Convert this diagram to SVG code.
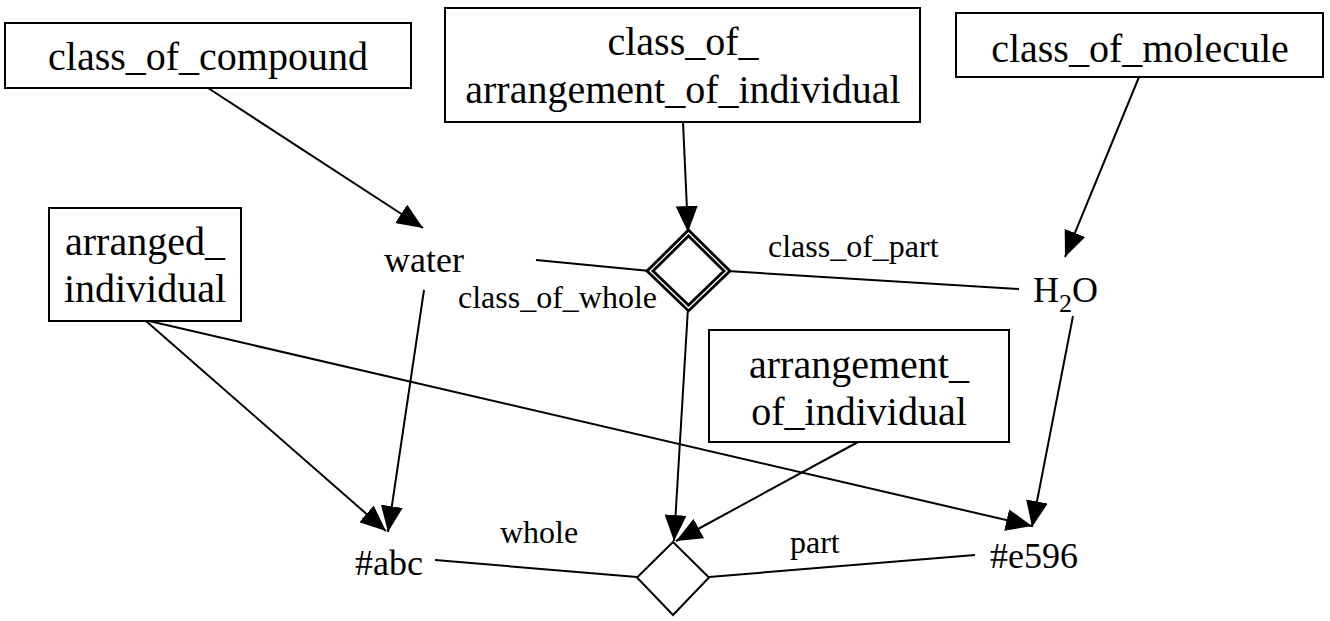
<svg xmlns="http://www.w3.org/2000/svg" width="1330" height="621" viewBox="0 0 1330 621">
<style>
.box{fill:#fff;stroke:#000;stroke-width:2}
text{font-family:'Liberation Serif','DejaVu Serif',serif;fill:#000}
.cls{font-size:40px;text-anchor:middle}
.ind{font-size:36px}
.lbl{font-size:32px}
.con{stroke:#000;stroke-width:2;fill:none}
.arr{marker-end:url(#ah)}
</style>
<defs>
<marker id="ah" markerUnits="userSpaceOnUse" markerWidth="26" markerHeight="22" refX="26" refY="11" orient="auto">
<path d="M0,0 L26,11 L0,22 z" fill="#000"/>
</marker>
</defs>
<rect width="1330" height="621" fill="#fff"/>
<g id="connectors">
<line class="con arr" x1="208" y1="88" x2="423" y2="228"/>
<line class="con arr" x1="683" y1="122" x2="688" y2="232"/>
<line class="con arr" x1="1139" y1="77" x2="1065" y2="257"/>
<line class="con" x1="536" y1="260" x2="650" y2="271"/>
<line class="con" x1="727" y1="271" x2="1019" y2="289"/>
<line class="con arr" x1="688" y1="308" x2="674" y2="541"/>
<line class="con arr" x1="858" y1="442" x2="676" y2="541"/>
<line class="con arr" x1="424" y1="290" x2="388" y2="532"/>
<line class="con arr" x1="146" y1="321" x2="386" y2="531"/>
<line class="con arr" x1="149" y1="321" x2="1032" y2="526"/>
<line class="con arr" x1="1073" y1="316" x2="1032" y2="527"/>
<line class="con" x1="435" y1="560" x2="637" y2="577"/>
<line class="con" x1="709" y1="577" x2="975" y2="555"/>
</g>
<g id="class_of_compound">
<rect class="box" x="5" y="23" width="406" height="65"/>
<text class="cls" x="208" y="70" font-family="Liberation Serif, DejaVu Serif, serif">class_of_compound</text>
</g>
<g id="class_of_arrangement_of_individual">
<rect class="box" x="445" y="8" width="475" height="114"/>
<text class="cls" x="683" y="55" font-family="Liberation Serif, DejaVu Serif, serif">class_of_</text>
<text class="cls" x="683" y="103" font-family="Liberation Serif, DejaVu Serif, serif">arrangement_of_individual</text>
</g>
<g id="class_of_molecule">
<rect class="box" x="956" y="13" width="367" height="64"/>
<text class="cls" x="1140" y="62" font-family="Liberation Serif, DejaVu Serif, serif">class_of_molecule</text>
</g>
<g id="arranged_individual">
<rect class="box" x="49" y="208" width="192" height="113"/>
<text class="cls" x="145" y="255" font-family="Liberation Serif, DejaVu Serif, serif">arranged_</text>
<text class="cls" x="145" y="302" font-family="Liberation Serif, DejaVu Serif, serif">individual</text>
</g>
<g id="arrangement_of_individual">
<rect class="box" x="709" y="330" width="300" height="112"/>
<text class="cls" x="859" y="378" font-family="Liberation Serif, DejaVu Serif, serif">arrangement_</text>
<text class="cls" x="859" y="425" font-family="Liberation Serif, DejaVu Serif, serif">of_individual</text>
</g>
<g id="water">
<text class="ind" x="384" y="272" font-family="Liberation Serif, DejaVu Serif, serif">water</text>
</g>
<g id="H2O">
<text class="ind" x="1033" y="302" font-family="Liberation Serif, DejaVu Serif, serif">H<tspan dy="10" font-size="26">2</tspan><tspan dy="-10">O</tspan></text>
</g>
<g id="abc">
<text class="ind" x="355" y="575" font-family="Liberation Serif, DejaVu Serif, serif">#abc</text>
</g>
<g id="e596">
<text class="ind" x="990" y="568" font-family="Liberation Serif, DejaVu Serif, serif">#e596</text>
</g>
<g id="class_of_composition">
<path d="M688.5,233 L727,271 L688.5,308 L650,271 Z" fill="#fff" stroke="#000" stroke-width="7" stroke-linejoin="miter"/>
<path d="M688.5,233 L727,271 L688.5,308 L650,271 Z" fill="none" stroke="#fff" stroke-width="1.3"/>
</g>
<g id="composition">
<path d="M673,542 L709,577.5 L673,615 L637,577.5 Z" fill="#fff" stroke="#000" stroke-width="2"/>
</g>
<g id="labels">
<text class="lbl" x="768" y="257" font-family="Liberation Serif, DejaVu Serif, serif">class_of_part</text>
<text class="lbl" x="458" y="308" font-family="Liberation Serif, DejaVu Serif, serif">class_of_whole</text>
<text class="lbl" x="500" y="543" font-family="Liberation Serif, DejaVu Serif, serif">whole</text>
<text class="lbl" x="790" y="553" font-family="Liberation Serif, DejaVu Serif, serif">part</text>
</g>
</svg>
